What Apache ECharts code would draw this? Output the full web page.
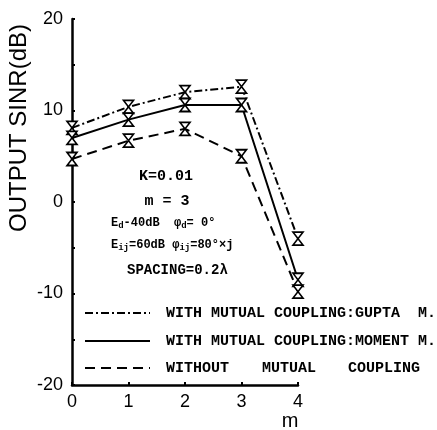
<!DOCTYPE html>
<html>
<head>
<meta charset="utf-8">
<script src="https://cdn.jsdelivr.net/npm/echarts@6/dist/echarts.min.js"></script>
<style>
  html, body { margin: 0; padding: 0; background: #fff; }
  #chart { width: 437px; height: 430px; }
</style>
</head>
<body>
<div id="chart"></div>
<script>
const mValues = [0, 1, 2, 3, 4]
const guptaSinr = [8.1, 10.4, 12.0, 12.6, -4.0]
const momentSinr = [7.0, 9.0, 10.6, 10.6, -8.5]
const withoutSinr = [4.7, 6.7, 8.0, 5.0, -9.8]
const legendNames = [
  'WITH MUTUAL COUPLING:GUPTA  M.',
  'WITH MUTUAL COUPLING:MOMENT M.',
  'WITHOUT  MUTUAL  COUPLING'
]

const chart = echarts.init(document.getElementById('chart'))

// hourglass marker: two triangles tip to tip
const hourglass = 'path://M0,0L10,0L0,13L10,13Z'
const mono = 'Liberation Mono'

const toPairs = (ys) => mValues.map((m, i) => [m, ys[i]])

const makeSeries = (name, data, type) => ({
  name,
  type: 'line',
  data: toPairs(data),
  symbol: hourglass,
  symbolSize: [10, 13],
  showSymbol: true,
  lineStyle: { color: '#000', width: 2, type },
  itemStyle: { color: '#fff', borderColor: '#000', borderWidth: 1.6 },
  z: 3
})

const legendLine = (y, type) => ({
  type: 'line',
  shape: { x1: 85, y1: y, x2: 150, y2: y },
  style: { stroke: '#000', lineWidth: 2, lineDash: type }
})

const legendText = (x, y, text) => ({
  type: 'text',
  x, y,
  style: {
    text,
    font: 'bold 15px "' + mono + '"',
    fill: '#000',
    verticalAlign: 'middle'
  }
})

const option = {
  animation: false,
  grid: { left: 72, right: 139, top: 19, bottom: 45 },
  xAxis: {
    type: 'value',
    min: 0,
    max: 4,
    interval: 1,
    axisLine: { onZero: false, lineStyle: { color: '#000', width: 2.5 } },
    axisTick: { inside: true, length: 3, lineStyle: { color: '#000', width: 2 } },
    axisLabel: { color: '#000', fontSize: 18, fontFamily: 'Liberation Sans', margin: 8 },
    splitLine: { show: false }
  },
  yAxis: {
    type: 'value',
    min: -20,
    max: 20,
    interval: 10,
    axisLine: { show: true, onZero: false, lineStyle: { color: '#000', width: 2.5 } },
    axisTick: { show: true, inside: true, length: 3, lineStyle: { color: '#000', width: 2 } },
    minorTick: { show: true, splitNumber: 2, length: 3, lineStyle: { color: '#000', width: 2 } },
    axisLabel: { color: '#000', fontSize: 18, fontFamily: 'Liberation Sans', margin: 9 },
    splitLine: { show: false }
  },
  series: [
    makeSeries(legendNames[0], guptaSinr, [8, 3, 2, 3]),
    makeSeries(legendNames[1], momentSinr, 'solid'),
    makeSeries(legendNames[2], withoutSinr, [10, 6])
  ],
  graphic: [
    {
      type: 'text',
      x: 19, y: 128,
      rotation: Math.PI / 2,
      style: {
        text: 'OUTPUT SINR(dB)',
        font: '24px "Liberation Sans"',
        fill: '#000',
        align: 'center',
        verticalAlign: 'middle'
      }
    },
    {
      type: 'text',
      x: 290, y: 421,
      style: {
        text: 'm',
        font: '20px "Liberation Sans"',
        fill: '#000',
        align: 'center',
        verticalAlign: 'middle'
      }
    },
    // parameter block
    {
      type: 'text', x: 166, y: 176,
      style: { text: 'K=0.01', font: 'bold 15px "' + mono + '"', fill: '#000', align: 'center', verticalAlign: 'middle' }
    },
    {
      type: 'text', x: 167, y: 201,
      style: { text: 'm = 3', font: 'bold 15px "' + mono + '"', fill: '#000', align: 'center', verticalAlign: 'middle' }
    },
    {
      type: 'text', x: 111, y: 223,
      style: {
        text: '{t|E}{s|d}{t|-40dB  φ}{s|d}{t|= 0°}',
        verticalAlign: 'middle',
        rich: {
          t: { font: 'bold 12px "' + mono + '"', fill: '#000' },
          s: { font: 'bold 9px "' + mono + '"', fill: '#000', padding: [6, 0, 0, 0] }
        }
      }
    },
    {
      type: 'text', x: 111, y: 245,
      style: {
        text: '{t|E}{s|ij}{t|=60dB φ}{s|ij}{t|=80°×j}',
        verticalAlign: 'middle',
        rich: {
          t: { font: 'bold 12px "' + mono + '"', fill: '#000' },
          s: { font: 'bold 9px "' + mono + '"', fill: '#000', padding: [6, 0, 0, 0] }
        }
      }
    },
    {
      type: 'text', x: 127, y: 270,
      style: { text: 'SPACING=0.2λ', font: 'bold 14px "' + mono + '"', fill: '#000', verticalAlign: 'middle' }
    },
    // legend
    legendLine(313, [8, 3, 2, 3]),
    legendLine(341, null),
    legendLine(368, [10, 6]),
    legendText(166, 313, legendNames[0]),
    legendText(166, 341, legendNames[1]),
    legendText(166, 368, 'WITHOUT'),
    legendText(262, 368, 'MUTUAL'),
    legendText(348, 368, 'COUPLING')
  ]
}

chart.setOption(option)
</script>
</body>
</html>
